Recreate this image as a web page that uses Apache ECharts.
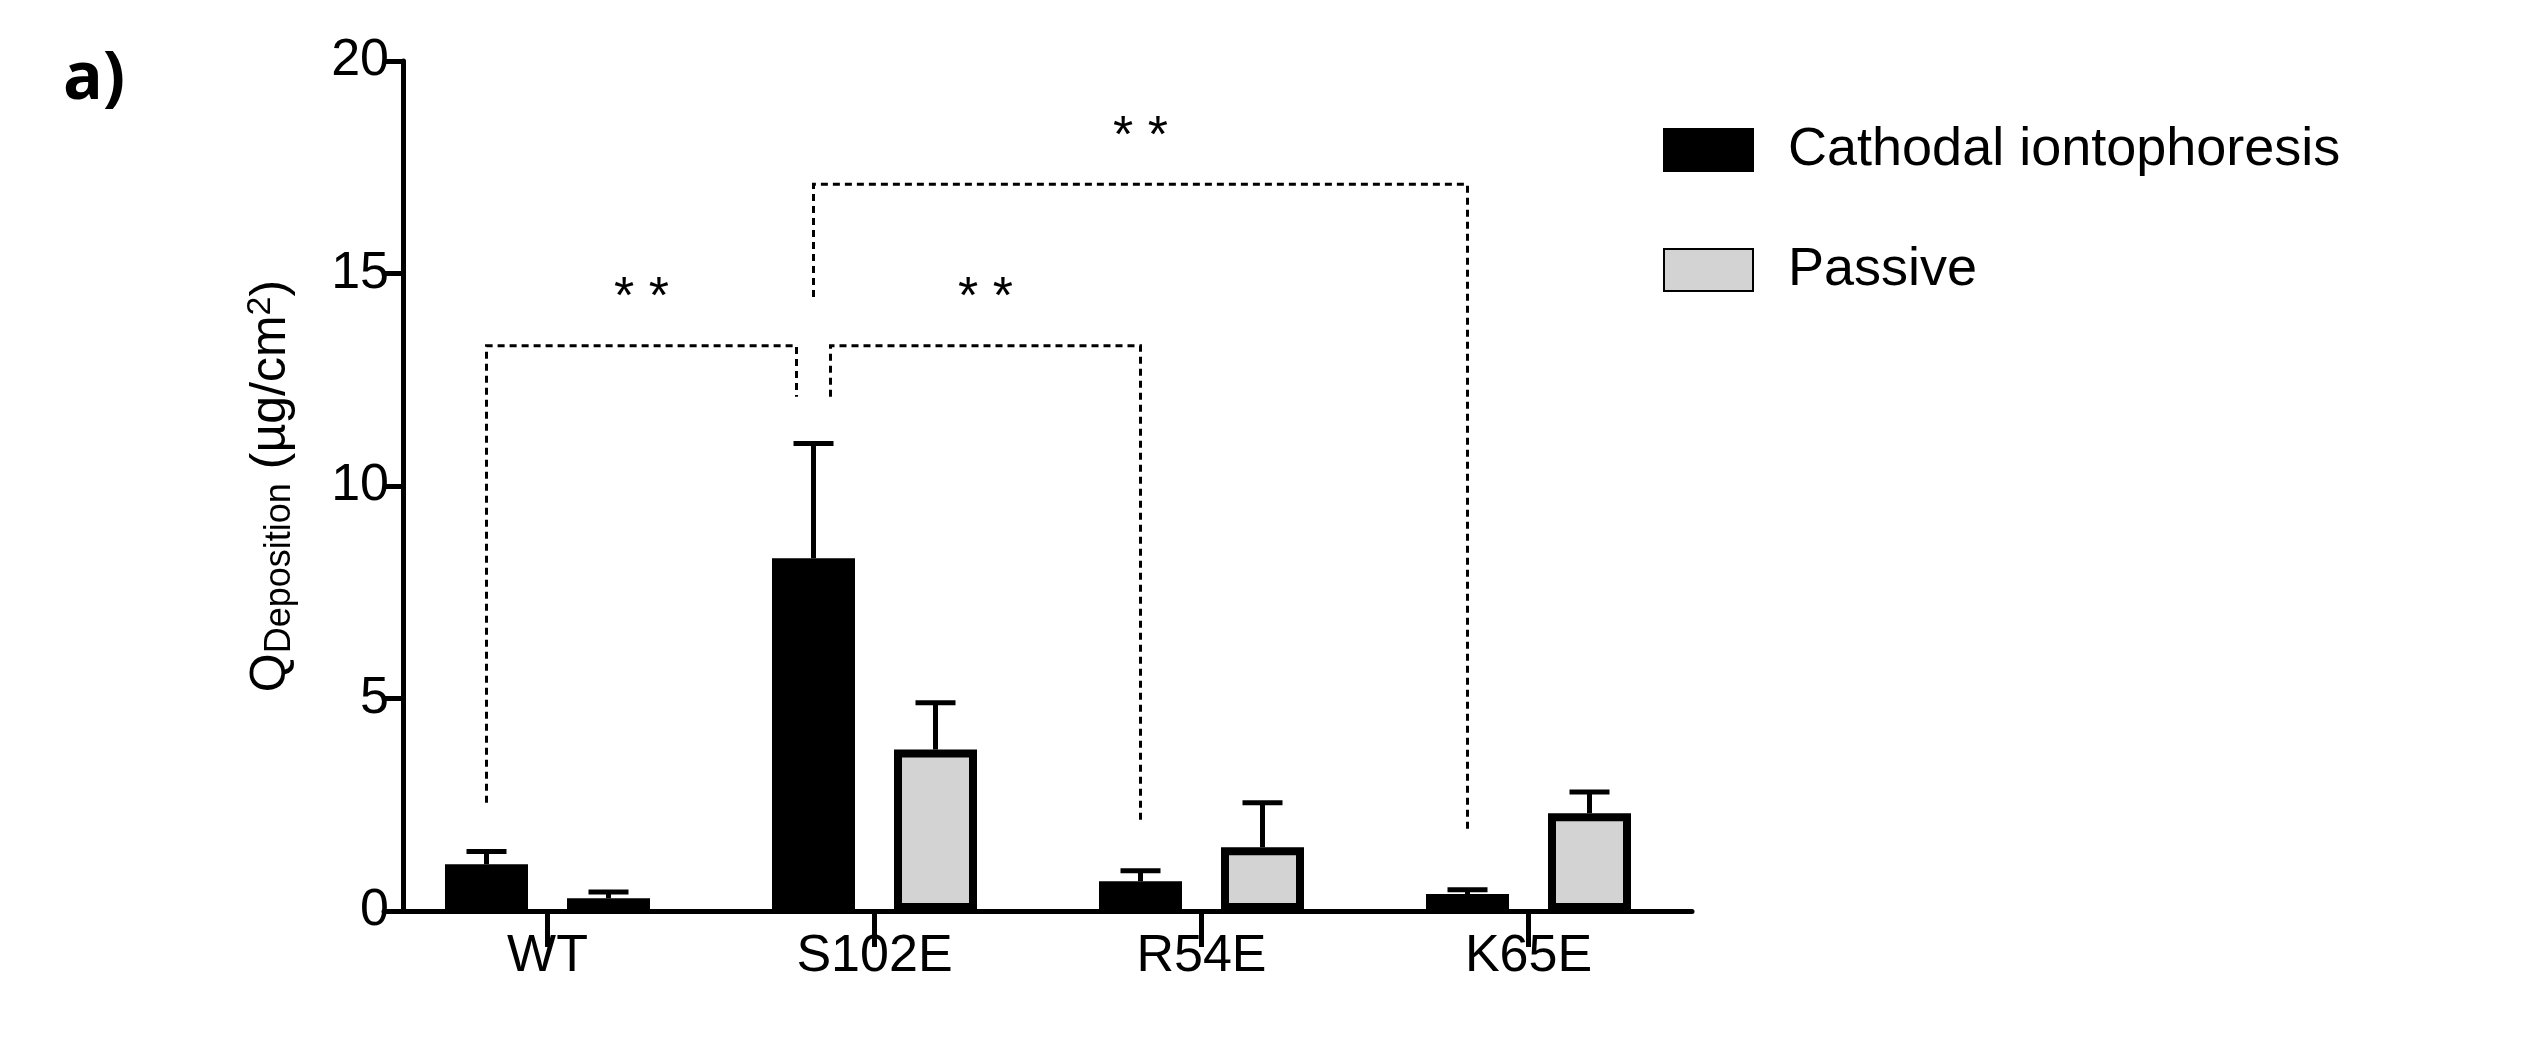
<!DOCTYPE html>
<html>
<head>
<meta charset="utf-8">
<script src="https://cdn.jsdelivr.net/npm/echarts@6/dist/echarts.min.js"></script>
<style>html,body{margin:0;padding:0;background:#fff;}#main{width:2524px;height:1037px;}</style>
</head>
<body>
<div id="main"></div>
<script>
// data
var categories = ['WT', 'S102E', 'R54E', 'K65E'];
var cathodal = [1.1, 8.3, 0.7, 0.4];
var cathodalErr = [1.4, 11.0, 0.95, 0.5];
var passive = [0.3, 3.8, 1.5, 2.3];
var passiveErr = [0.45, 4.9, 2.55, 2.8];
var yTicks = [0, 5, 10, 15, 20];
// brackets: [fromCat, toCat, level, fromDropEnd, toDropEnd, fromShift, starLevel]
var brackets = [
    [0, 1, 13.3, 2.55, 12.1, -17, 14.4],
    [1, 2, 13.3, 12.1, 2.1, 17, 14.4],
    [1, 3, 17.1, 14.45, 1.9, 0, 18.2]
];

var barW = 83, off = 61;
var font = 'Liberation Sans';

var chart = echarts.init(document.getElementById('main'));

function errItem(shift) {
    return function (params, api) {
        var top = api.coord([api.value(0), api.value(2)]);
        var base = api.coord([api.value(0), api.value(1)]);
        var x = top[0] + shift;
        return {
            type: 'group',
            children: [
                {type: 'line', shape: {x1: x, y1: base[1], x2: x, y2: top[1]}, style: {stroke: '#000', lineWidth: 5}},
                {type: 'line', shape: {x1: x - 20, y1: top[1], x2: x + 20, y2: top[1]}, style: {stroke: '#000', lineWidth: 5}}
            ]
        };
    };
}

function bracketItem(params, api) {
    var b = brackets[params.dataIndex];
    var p1 = api.coord([b[0], b[2]]);
    var p2 = api.coord([b[1], b[2]]);
    var x1 = p1[0] - off, x2 = p2[0] - off;
    if (b[0] === 1) x1 += b[5];
    if (b[1] === 1) x2 += b[5];
    var d1 = api.coord([b[0], b[3]])[1];
    var d2 = api.coord([b[1], b[4]])[1];
    var ys = api.coord([b[0], b[6]])[1];
    var st = {stroke: '#000', fill: null, lineWidth: 3, lineDash: [7, 5]};
    return {
        type: 'group',
        children: [
            {type: 'polyline', shape: {points: [[x1, d1], [x1, p1[1]], [x2, p1[1]], [x2, d2]]}, style: st},
            {type: 'text', style: {text: '* *', x: (x1 + x2) / 2, y: ys, align: 'center', verticalAlign: 'middle',
                font: '52px "' + font + '"', fill: '#000'}}
        ]
    };
}

var option = {
    backgroundColor: '#fff',
    animation: false,
    textStyle: {fontFamily: font},
    title: {text: 'a)', left: 58, top: 42, textStyle: {fontSize: 66, fontWeight: 'bold', fontFamily: 'Open Sans', color: '#000'}},
    legend: {
        left: 1658, top: 118, orient: 'vertical', icon: 'rect', itemWidth: 89, itemHeight: 42, itemGap: 66,
        textStyle: {fontSize: 54, color: '#000', padding: [0, 0, 0, 30]},
        data: ['Cathodal iontophoresis', 'Passive']
    },
    grid: {left: 384, right: 832, top: 61, bottom: 126},
    xAxis: {
        type: 'category', data: categories,
        axisLine: {lineStyle: {color: '#000', width: 5}},
        axisTick: {show: true, alignWithLabel: true, length: 36, lineStyle: {width: 5, color: '#000'}},
        axisLabel: {fontSize: 52, color: '#000', margin: 20}
    },
    yAxis: {
        type: 'value', min: 0, max: 20, interval: 5, offset: -19,
        axisLine: {show: true, lineStyle: {color: '#000', width: 5}},
        axisTick: {show: true, length: 20, lineStyle: {width: 5, color: '#000'}},
        axisLabel: {fontSize: 52, color: '#000', margin: 14,
            formatter: function (v) { return yTicks.indexOf(v) >= 0 ? String(v) : ''; }},
        splitLine: {show: false},
        name: '{q|Q}{s|Deposition}{q| (µg/cm}{p|2}{q|)}',
        nameLocation: 'middle', nameGap: 105, nameRotate: 90,
        nameTextStyle: {rich: {
            q: {fontSize: 50, color: '#000', fontFamily: font},
            s: {fontSize: 36, color: '#000', fontFamily: font, verticalAlign: 'bottom', padding: [18, 0, 0, 0]},
            p: {fontSize: 34, color: '#000', fontFamily: font, verticalAlign: 'top', padding: [0, 0, 18, 0]}
        }}
    },
    series: [
        {name: 'Cathodal iontophoresis', type: 'bar', data: cathodal, barWidth: barW, barGap: '47%',
            itemStyle: {color: '#000', borderColor: '#000', borderWidth: 8}, z: 3},
        {name: 'Passive', type: 'bar', data: passive, barWidth: barW,
            itemStyle: {color: '#d3d3d3', borderColor: '#000', borderWidth: 8}, z: 3},
        {type: 'custom', renderItem: errItem(-off), z: 2,
            data: categories.map(function (c, i) { return [i, cathodal[i], cathodalErr[i]]; })},
        {type: 'custom', renderItem: errItem(off), z: 2,
            data: categories.map(function (c, i) { return [i, passive[i], passiveErr[i]]; })},
        {type: 'custom', renderItem: bracketItem, z: 4,
            data: brackets.map(function (b) { return [b[0], b[2]]; })}
    ]
};
chart.setOption(option);
</script>
</body>
</html>
